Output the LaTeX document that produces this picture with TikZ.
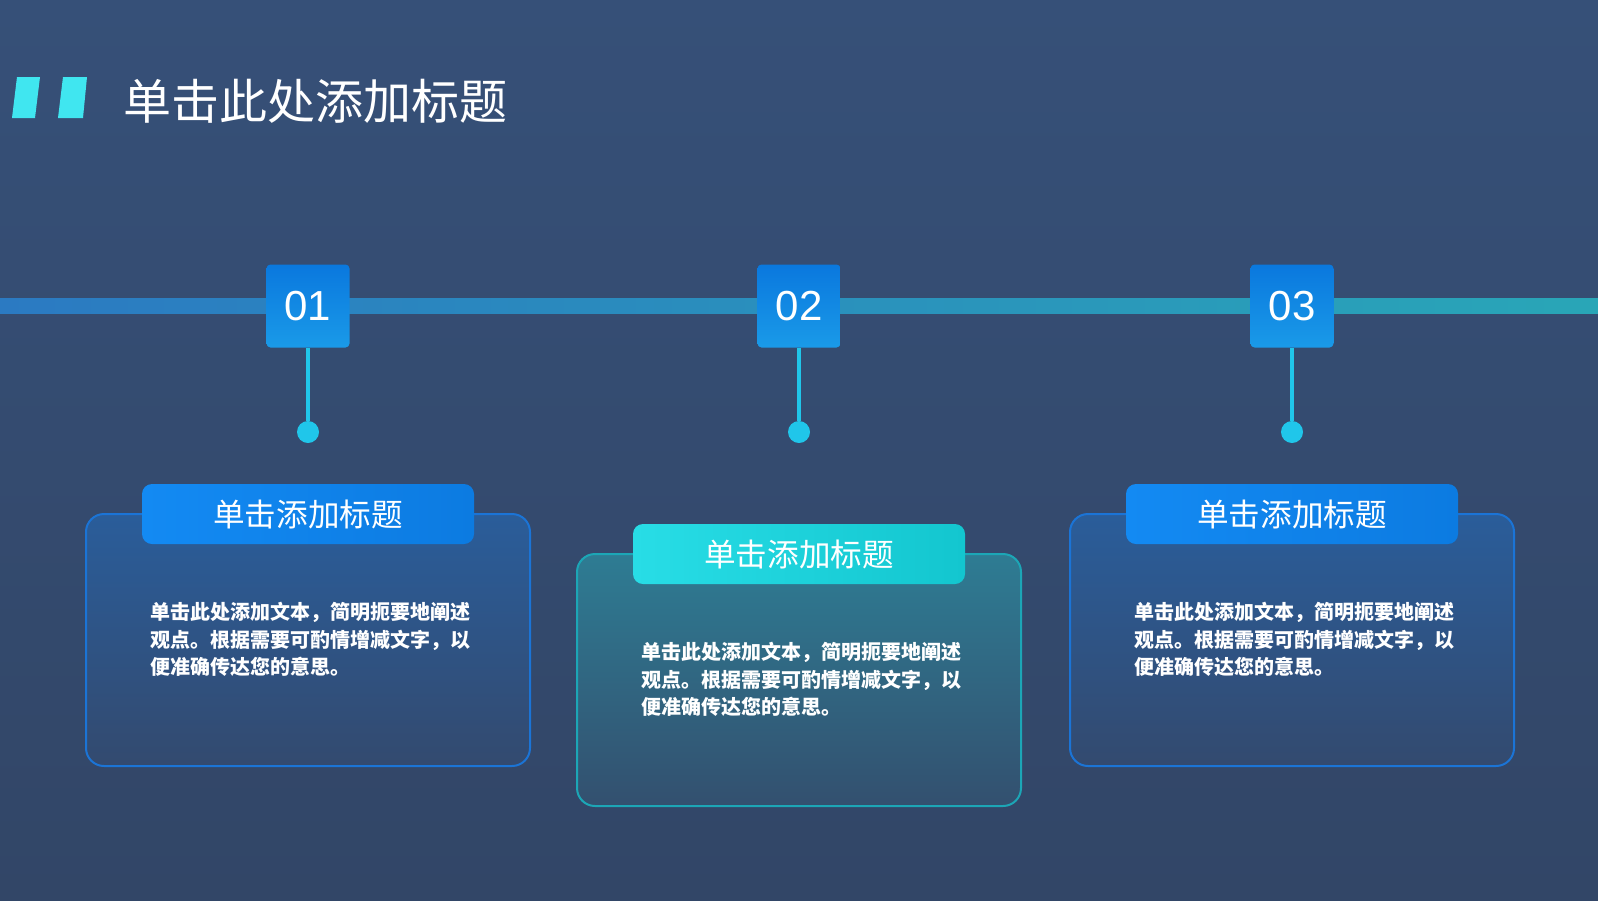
\documentclass[tikz,border=0pt]{standalone}
\usepackage{fontspec}
\setmainfont{Liberation Sans}
\newfontfamily\cjk{Noto Sans CJK SC}
\usetikzlibrary{positioning}
\definecolor{bgTop}{HTML}{365078}
\definecolor{bgBot}{HTML}{324667}
\definecolor{markCol}{HTML}{40E6F0}
\definecolor{lineL}{HTML}{2B7AC2}
\definecolor{lineR}{HTML}{29A6B7}
\definecolor{numTop}{HTML}{0A78DE}
\definecolor{numBot}{HTML}{1A9AE8}
\definecolor{stemCol}{HTML}{20C6EA}
\definecolor{blueCardTop}{HTML}{2A5D9A}
\definecolor{blueCardBot}{HTML}{334A6F}
\definecolor{blueCardLine}{HTML}{1B74D6}
\definecolor{blueHeadL}{HTML}{138AF3}
\definecolor{blueHeadR}{HTML}{0C7BE1}
\definecolor{tealCardTop}{HTML}{2E7C93}
\definecolor{tealCardBot}{HTML}{33506F}
\definecolor{tealCardLine}{HTML}{1CA6B6}
\definecolor{tealHeadL}{HTML}{28DDE6}
\definecolor{tealHeadR}{HTML}{13C6CF}
\tikzset{
  titletext/.style={text=white,inner sep=0,font=\cjk\fontsize{24}{24}\selectfont},
  numbox/.style={rectangle,rounded corners=2pt,minimum size=41.5pt,inner sep=0,
    top color=numTop,bottom color=numBot,text=white,font=\fontsize{21}{21}\selectfont},
  dotmark/.style={circle,fill=stemCol,minimum size=11pt,inner sep=0},
  stem/.style={stemCol,line width=2pt},
  cardbox/.style={rectangle,rounded corners=9pt,minimum width=222pt,minimum height=126pt,line width=1pt},
  headbox/.style={rectangle,rounded corners=5pt,minimum width=166pt,minimum height=30pt,inner sep=0,
    text=white,font=\cjk\fontsize{15.8}{16}\selectfont},
  bodytext/.style={text=white,inner sep=0,align=left,font=\cjk\bfseries\fontsize{10}{13.75}\selectfont}
}
\begin{document}
\begin{tikzpicture}[x=0.5pt,y=-0.5pt]
\useasboundingbox (0,0) rectangle (1598,900);
\shade[top color=bgTop,bottom color=bgBot] (0,0) rectangle (1598,900);
% title
\fill[markCol] (17,77) -- (40,77) -- (35,118) -- (12,118) -- cycle;
\fill[markCol] (63,77) -- (87,77) -- (83,118) -- (58,118) -- cycle;
\node[titletext,anchor=west] (title) at (123,101) {单击此处添加标题};
% timeline
\shade[left color=lineL,right color=lineR] (0,298) rectangle (1598,313);
\foreach \i/\x/\dy/\tone in {1/308/0/blue,2/799/40/teal,3/1292/0/blue}{
  \node[numbox] (num\i) at (\x,306) {\raisebox{-1.5pt}{0\i}};
  \node[dotmark] (dot\i) at (\x,432) {};
  \draw[stem] (num\i) -- (dot\i);
  \node[cardbox,top color=\tone CardTop,bottom color=\tone CardBot,draw=\tone CardLine]
    (card\i) at (\x,{640+\dy}) {};
  \node[headbox,left color=\tone HeadL,right color=\tone HeadR] (head\i) at (\x,{514+\dy}) {单击添加标题};
  \node[bodytext,anchor=north west] (body\i) at ({\x-158},{602+\dy})
    {单击此处添加文本，简明扼要地阐述\\观点。根据需要可酌情增减文字，以\\便准确传达您的意思。};
}
\end{tikzpicture}
\end{document}
